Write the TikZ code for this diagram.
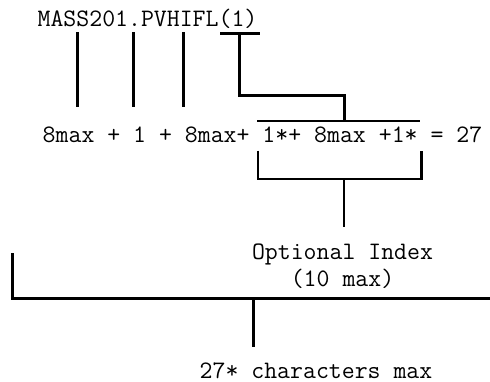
\documentclass[tikz,border=0pt]{standalone}
\usepackage{fontspec}
\begin{document}
\begin{tikzpicture}[x=1pt,y=-1pt,
  lbl/.style={font=\ttfamily\fontsize{25.1}{30}\selectfont, inner sep=0pt, anchor=base},
  bar/.style={line width=2.5pt, line cap=butt}]
\useasboundingbox (0,0) rectangle (490,381);
% labels
\node[lbl] (name) at (147.5,26) {MASS201.PVHIFL(1)};
\node[lbl] (sum) at (262.5,142.7) {8max + 1 + 8max+ 1*+ 8max +1* = 27};
\node[lbl] (opt) at (342.5,259.3) {Optional Index};
\node[lbl] (ten) at (342.5,286.7) {(10 max)};
\node[lbl] (tot) at (316,378) {27* characters max};
% connector points
\coordinate (a1) at (77.7,32);   \coordinate (a2) at (77.7,107);
\coordinate (b1) at (133.3,32);  \coordinate (b2) at (133.3,107);
\coordinate (c1) at (183.3,32);  \coordinate (c2) at (183.3,107);
\coordinate (i1) at (220,33.3);  \coordinate (i2) at (260,33.3);
\coordinate (ij) at (239.3,33.3);
\coordinate (ik) at (239.3,95.7);
\coordinate (il) at (344.3,95.7);
\coordinate (im) at (344.3,121);
\coordinate (o1) at (257,121);   \coordinate (o2) at (419.5,121);
\coordinate (u1) at (258,150.7); \coordinate (u2) at (258,179);
\coordinate (u3) at (421.7,179); \coordinate (u4) at (421.7,150.7);
\coordinate (um) at (344,179);   \coordinate (un) at (344,226.7);
\coordinate (t1) at (12.7,253);  \coordinate (t2) at (12.7,298.5);
\coordinate (t3) at (490,298.5);
\coordinate (tm) at (253.3,298.5); \coordinate (tn) at (253.3,346.7);
% vertical ticks from the name to the sum
\draw[bar] (a1) -- (a2);
\draw[bar] (b1) -- (b2);
\draw[bar] (c1) -- (c2);
% bracket over the index part of the name
\draw[bar] (i1) -- (i2);
\draw[bar] (ij) -- (ik) -- (il) -- (im);
\draw[bar] (o1) -- (o2);
% bracket under the optional index
\draw[bar] (u1) -- (u2) -- (u3) -- (u4);
\draw[bar] (um) -- (un);
% total bracket
\draw[bar] (t1) -- (t2) -- (t3);
\draw[bar] (tm) -- (tn);
\end{tikzpicture}
\end{document}
